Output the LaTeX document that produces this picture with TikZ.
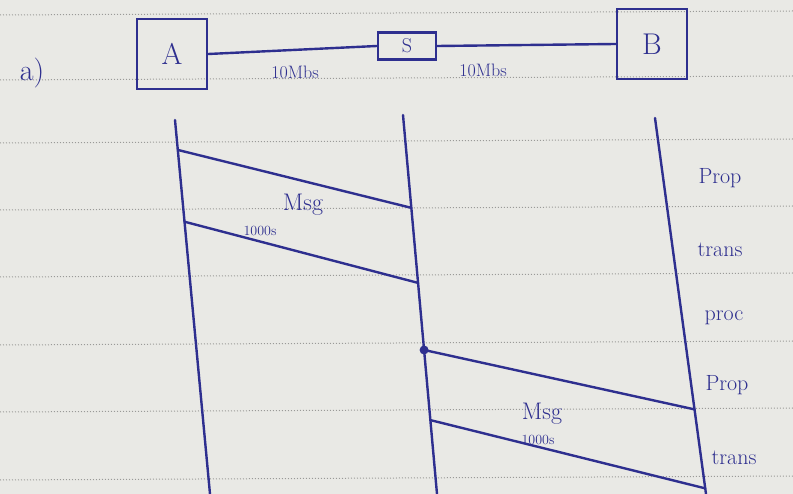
\documentclass[tikz,border=0pt]{standalone}
\usepackage{tikz}
\usetikzlibrary{positioning, calc}
\definecolor{penblue}{HTML}{2E2F8F}
\definecolor{paper}{HTML}{E9E9E5}
\definecolor{ruleline}{HTML}{9A9A98}
\tikzset{
  pen/.style={draw=penblue, line width=2.4pt, line cap=round},
  hostbox/.style={draw=penblue, line width=2.6pt, minimum width=#1, minimum height=#1, inner sep=0pt, text=penblue, font=\fontsize{30}{32}\selectfont},
  note/.style={text=penblue, font=\fontsize{22}{24}\selectfont, inner sep=1pt},
}
\begin{document}
\begin{tikzpicture}[x=1pt, y=-1pt]
          % Papel
          \fill[paper] (0,0) rectangle (793,494);
          \useasboundingbox (0,0) rectangle (793,494);
          \foreach \yy in {15,80,143,210,277,345,412,480}
            \draw[ruleline, dotted, line width=1pt] (0,\yy) -- (793,\yy-4);
          % Enlace A - S - B
          \node[note, font=\fontsize{30}{32}\selectfont] (lbla) at (32,73) {a)};
          \node[hostbox=70pt] (hosta) at (172,54) {A};
          \node[draw=penblue, line width=2.6pt, minimum width=58pt, minimum height=27pt, inner sep=0pt, text=penblue, font=\fontsize{20}{22}\selectfont] (sw) at (407,46) {S};
          \node[hostbox=70pt] (hostb) at (652,44) {B};
          \draw[pen] (hosta.east) -- (sw.west);
          \draw[pen] (sw.east) -- (hostb.west);
          \node[note, font=\fontsize{18}{20}\selectfont] (rate1) at (295,72) {10Mbs};
          \node[note, font=\fontsize{18}{20}\selectfont] (rate2) at (483,70) {10Mbs};
          % Lineas de tiempo
          \coordinate (atop) at (175,120);
          \coordinate (abot) at (210,494);
          \coordinate (stop) at (403,115);
          \coordinate (sbot) at (437,494);
          \coordinate (btop) at (655,118);
          \coordinate (bbot) at (706,494);
          \draw[pen] (atop) -- (abot);
          \draw[pen] (stop) -- (sbot);
          \draw[pen] (btop) -- (bbot);
          % Primer enlace
          \coordinate (a1) at ($(atop)!0.080!(abot)$);
          \coordinate (s1) at ($(stop)!0.245!(sbot)$);
          \coordinate (a2) at ($(atop)!0.272!(abot)$);
          \coordinate (s2) at ($(stop)!0.443!(sbot)$);
          \draw[pen] (a1) -- (s1);
          \draw[pen] (a2) -- (s2);
          \node[note, font=\fontsize{24}{26}\selectfont] (msg1) at (303,205) {Msg};
          \node[note, font=\fontsize{14}{16}\selectfont] (size1) at (260,231) {1000s};
          % Procesamiento en S
          \coordinate (s3) at ($(stop)!0.620!(sbot)$);
          \fill[penblue] (s3) circle (4.5pt);
          % Segundo enlace
          \coordinate (b1) at ($(btop)!0.775!(bbot)$);
          \coordinate (s4) at ($(stop)!0.805!(sbot)$);
          \coordinate (b2) at ($(btop)!0.985!(bbot)$);
          \draw[pen] (s3) -- (b1);
          \draw[pen] (s4) -- (b2);
          \node[note, font=\fontsize{24}{26}\selectfont] (msg2) at (542,414) {Msg};
          \node[note, font=\fontsize{14}{16}\selectfont] (size2) at (538,440) {1000s};
          % Etiquetas de tiempos
          \node[note] (tprop1) at (720,178) {Prop};
          \node[note] (ttrans1) at (720,250) {trans};
          \node[note] (tproc) at (724,318) {proc};
          \node[note] (tprop2) at (727,385) {Prop};
          \node[note] (ttrans2) at (734,458) {trans};
        \end{tikzpicture}
\end{document}
